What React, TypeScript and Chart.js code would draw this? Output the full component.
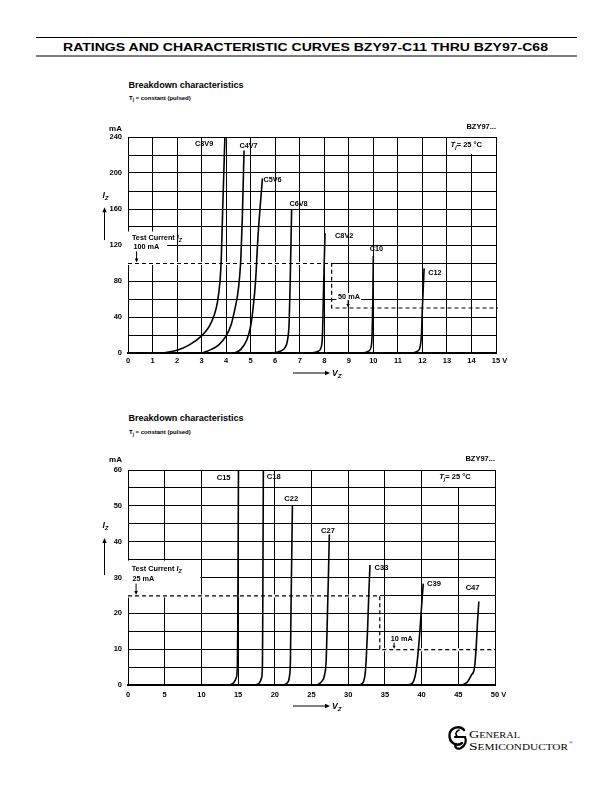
import React, { useEffect, useRef } from 'react';
import { Chart, registerables } from 'chart.js';

Chart.register(...registerables);

const FONT = '"Liberation Sans", Arial, Helvetica, sans-serif';

// ---------- Chart 1 (0..15 V, 0..240 mA) ----------
const topNames = ['C3V9', 'C4V7', 'C5V6', 'C6V8', 'C8V2', 'C10', 'C12'];
const c3v9V = [1.4, 2.0, 2.5, 3.0, 3.3, 3.5, 3.65, 3.75, 3.8, 3.86, 3.95];
const c3v9I = [0, 3, 9, 19, 29, 41, 57, 80, 103, 160, 240];
const c4v7V = [3.0, 3.4, 3.7, 4.0, 4.2, 4.35, 4.47, 4.55, 4.6, 4.66, 4.73];
const c4v7I = [0, 4, 9, 19, 31, 48, 65, 85, 105, 150, 225];
const c5v6V = [4.35, 4.6, 4.85, 5.0, 5.1, 5.2, 5.3, 5.48];
const c5v6I = [0, 4, 15, 30, 50, 80, 130, 194];
const c6v8V = [5.9, 6.2, 6.4, 6.5, 6.57, 6.62, 6.67];
const c6v8I = [0, 2, 6, 14, 35, 90, 160];
const c8v2V = [7.5, 7.75, 7.87, 7.93, 7.97, 8.03];
const c8v2I = [0, 2, 6, 22, 70, 133];
const c10V = [9.6, 9.8, 9.9, 9.95, 9.98, 10.0];
const c10I = [0, 2, 6, 20, 60, 108];
const c12V = [11.6, 11.8, 11.9, 11.96, 12.0, 12.07];
const c12I = [0, 2, 6, 20, 50, 94];
const topXTicks = [0, 1, 2, 3, 4, 5, 6, 7, 8, 9, 10, 11, 12, 13, 14, 15];
const topYTicks = [0, 40, 80, 120, 160, 200, 240];

// ---------- Chart 2 (0..50 V, 0..60 mA) ----------
const bottomNames = ['C15', 'C18', 'C22', 'C27', 'C33', 'C39', 'C47'];
const c15V = [13.8, 14.4, 14.75, 14.9, 14.95, 15.0, 15.05];
const c15I = [0, 0.6, 2, 5, 15, 35, 60];
const c18V = [17.4, 17.9, 18.2, 18.32, 18.36, 18.4, 18.44];
const c18I = [0, 0.6, 2, 6, 20, 40, 60];
const c22V = [21.2, 21.7, 22.0, 22.13, 22.2, 22.3, 22.4];
const c22I = [0, 0.6, 2.5, 7, 20, 35, 50];
const c27V = [25.8, 26.4, 26.8, 27.0, 27.15, 27.3, 27.43];
const c27I = [0, 1, 3, 7, 18, 30, 42];
const c33V = [31.6, 32.1, 32.3, 32.45, 32.65, 32.8, 32.97];
const c33I = [0, 1, 3, 7, 16, 25, 33.5];
const c39V = [38.3, 38.9, 39.25, 39.55, 39.8, 40.0, 40.23];
const c39I = [0, 1, 4, 9.6, 16, 22, 28.3];
const c47V = [45.6, 46.3, 46.8, 47.2, 47.45, 47.6, 47.8];
const c47I = [0, 1, 2.8, 4.7, 11, 17, 23.3];
const bottomXTicks = [0, 5, 10, 15, 20, 25, 30, 35, 40, 45, 50];
const bottomYTicks = [0, 10, 20, 30, 40, 50, 60];

type Part = { t: string; italic?: boolean; sub?: boolean };

function drawRich(ctx: CanvasRenderingContext2D, x: number, y: number, parts: Part[], size: number, align: 'left' | 'right' | 'center' = 'left') {
  const fontOf = (p: Part) => `${p.italic ? 'italic ' : ''}bold ${p.sub ? size * 0.72 : size}px ${FONT}`;
  let total = 0;
  const widths = parts.map((p) => {
    ctx.font = fontOf(p);
    const w = ctx.measureText(p.t).width;
    total += w;
    return w;
  });
  let cx = x;
  if (align === 'right') cx = x - total;
  if (align === 'center') cx = x - total / 2;
  ctx.fillStyle = '#000';
  ctx.textBaseline = 'middle';
  ctx.textAlign = 'left';
  parts.forEach((p, k) => {
    ctx.font = fontOf(p);
    ctx.fillText(p.t, cx, y + (p.sub ? size * 0.3 : 0));
    cx += widths[k];
  });
}

function arrow(ctx: CanvasRenderingContext2D, x1: number, y1: number, x2: number, y2: number, head = 4.5, half = 2) {
  const ang = Math.atan2(y2 - y1, x2 - x1);
  ctx.save();
  ctx.setLineDash([]);
  ctx.strokeStyle = '#000';
  ctx.fillStyle = '#000';
  ctx.lineWidth = 1;
  ctx.beginPath();
  ctx.moveTo(x1, y1);
  ctx.lineTo(x2 - Math.cos(ang) * head * 0.8, y2 - Math.sin(ang) * head * 0.8);
  ctx.stroke();
  ctx.beginPath();
  ctx.moveTo(x2, y2);
  ctx.lineTo(x2 - Math.cos(ang) * head - Math.sin(ang) * half, y2 - Math.sin(ang) * head + Math.cos(ang) * half);
  ctx.lineTo(x2 - Math.cos(ang) * head + Math.sin(ang) * half, y2 - Math.sin(ang) * head - Math.cos(ang) * half);
  ctx.closePath();
  ctx.fill();
  ctx.restore();
}

type Helpers = {
  ctx: CanvasRenderingContext2D;
  px: (v: number) => number;
  py: (v: number) => number;
  area: { left: number; right: number; top: number; bottom: number };
};

type Spec = {
  names: string[];
  volts: number[][];
  currents: number[][];
  xTicks: number[];
  yTicks: number[];
  xStep: number;
  yStep: number;
  padTop: number;
  padRight: number;
  xPad: number;
  before: (h: Helpers) => void;
  after: (h: Helpers) => void;
};

function helpers(chart: any): Helpers {
  const xs = chart.scales.x;
  const ys = chart.scales.y;
  return {
    ctx: chart.ctx,
    px: (v: number) => xs.getPixelForValue(v),
    py: (v: number) => ys.getPixelForValue(v),
    area: chart.chartArea,
  };
}

function makeConfig(spec: Spec): any {
  const xMax = spec.xTicks[spec.xTicks.length - 1];
  const yMax = spec.yTicks[spec.yTicks.length - 1];
  const tickFont = { family: FONT, size: 7.5, weight: 'bold' as const };
  const extras = {
    id: 'extras',
    beforeDatasetsDraw(chart: any) {
      const h = helpers(chart);
      h.ctx.save();
      spec.before(h);
      h.ctx.restore();
    },
    afterDatasetsDraw(chart: any) {
      const h = helpers(chart);
      h.ctx.save();
      spec.after(h);
      // unit "V" after the last x tick label
      const ctx = h.ctx;
      ctx.font = `bold 7.5px ${FONT}`;
      const w = ctx.measureText(String(xMax)).width;
      drawRich(ctx, h.px(xMax) + w / 2 + 2, h.area.bottom + spec.xPad + 4.5, [{ t: 'V' }], 7.5);
      h.ctx.restore();
    },
  };
  return {
    type: 'line',
    data: {
      datasets: spec.names.map((n, k) => ({
        label: n,
        data: spec.volts[k].map((v, j) => ({ x: v, y: spec.currents[k][j] })),
        borderColor: '#000',
        borderWidth: 1.6,
        pointRadius: 0,
        fill: false,
        cubicInterpolationMode: 'monotone',
      })),
    },
    options: {
      responsive: false,
      maintainAspectRatio: false,
      animation: false,
      layout: { padding: { top: spec.padTop, right: spec.padRight, left: 0, bottom: 0 } },
      plugins: { legend: { display: false }, tooltip: { enabled: false } },
      scales: {
        x: {
          type: 'linear',
          min: 0,
          max: xMax,
          afterFit: (s: any) => {
            s.height = 37;
          },
          ticks: {
            stepSize: spec.xStep,
            autoSkip: false,
            maxRotation: 0,
            color: '#000',
            font: tickFont,
            padding: spec.xPad,
            callback: (v: any) => (spec.xTicks.includes(Number(v)) ? String(v) : ''),
          },
          grid: { color: '#000', lineWidth: 1, drawTicks: false },
          border: { display: true, color: '#000', width: 2 },
        },
        y: {
          type: 'linear',
          min: 0,
          max: yMax,
          afterFit: (s: any) => {
            s.width = 38;
          },
          ticks: {
            stepSize: spec.yStep,
            autoSkip: false,
            color: '#000',
            font: tickFont,
            padding: 6,
            callback: (v: any) => (spec.yTicks.includes(Number(v)) ? String(v) : ''),
          },
          grid: { color: '#000', lineWidth: 1, drawTicks: false },
          border: { display: true, color: '#000', width: 1 },
        },
      },
    },
    plugins: [extras],
  };
}

function whiteRect(ctx: CanvasRenderingContext2D, x0: number, y0: number, x1: number, y1: number) {
  ctx.fillStyle = '#fff';
  ctx.fillRect(Math.min(x0, x1), Math.min(y0, y1), Math.abs(x1 - x0), Math.abs(y1 - y0));
}

function whiteLine(ctx: CanvasRenderingContext2D, x0: number, x1: number, y: number) {
  ctx.save();
  ctx.strokeStyle = '#fff';
  ctx.lineWidth = 3;
  ctx.beginPath();
  ctx.moveTo(x0, y);
  ctx.lineTo(x1, y);
  ctx.stroke();
  ctx.restore();
}

function dashedPath(ctx: CanvasRenderingContext2D, pts: [number, number][]) {
  ctx.save();
  ctx.strokeStyle = '#000';
  ctx.lineWidth = 1.2;
  ctx.setLineDash([4, 3]);
  ctx.beginPath();
  pts.forEach(([x, y], k) => (k === 0 ? ctx.moveTo(x, y) : ctx.lineTo(x, y)));
  ctx.stroke();
  ctx.restore();
}

function axisDecor(h: Helpers, mAy: number, bzyY: number, izY: number, izArrow: [number, number], vzY: number) {
  const { ctx, area } = h;
  drawRich(ctx, area.left - 6, area.top - mAy, [{ t: 'mA' }], 8, 'right');
  drawRich(ctx, area.right, area.top - bzyY, [{ t: 'BZY97...' }], 7.5, 'right');
  drawRich(ctx, 102.5 - 90, izY, [{ t: 'I', italic: true }, { t: 'Z', italic: true, sub: true }], 8.5);
  arrow(ctx, 104.5 - 90, izArrow[0], 104.5 - 90, izArrow[1], 5, 2.2);
  arrow(ctx, area.left + 165, area.bottom + vzY, area.left + 202, area.bottom + vzY, 5, 2.2);
  drawRich(ctx, area.left + 204, area.bottom + vzY + 0.5, [{ t: 'V', italic: true }, { t: 'Z', italic: true, sub: true }], 8.5);
}

const labelSize = 7.3;

const topLabelPos: [number, number][] = [
  [2.73, 232], [4.54, 230], [5.52, 192], [6.58, 166], [8.44, 130], [9.85, 115.5], [12.24, 89],
];
const bottomLabelPos: [number, number][] = [
  [12.08, 57.7], [18.9, 58], [21.3, 51.8], [26.3, 43], [33.6, 32.7], [40.74, 28.2], [46.0, 27],
];

const topSpec: Spec = {
  names: topNames,
  volts: [c3v9V, c4v7V, c5v6V, c6v8V, c8v2V, c10V, c12V],
  currents: [c3v9I, c4v7I, c5v6I, c6v8I, c8v2I, c10I, c12I],
  xTicks: topXTicks,
  yTicks: topYTicks,
  xStep: 1,
  yStep: 20,
  padTop: 22,
  padRight: 34,
  xPad: 3.5,
  before: ({ ctx, px, py }) => {
    whiteRect(ctx, px(0) - 1.6, py(135), px(1.6), py(100));
    whiteRect(ctx, px(13) + 1, py(240) + 1, px(15) - 1, py(220) - 1);
    whiteLine(ctx, px(0) - 1, px(8.3), py(100) + 0.5);
    dashedPath(ctx, [[px(0), py(100) + 0.5], [px(8.3), py(100) + 0.5], [px(8.3), py(50)], [px(15) + 2, py(50)]]);
    whiteRect(ctx, px(8.5), py(66.5), px(9.5), py(58.5));
  },
  after: (h) => {
    const { ctx, px, py } = h;
    topNames.forEach((n, k) => drawRich(ctx, px(topLabelPos[k][0]), py(topLabelPos[k][1]), [{ t: n }], labelSize));
    drawRich(ctx, px(13.15), py(231), [{ t: 'T', italic: true }, { t: 'j', italic: true, sub: true }, { t: '= 25 °C' }], 7.5);
    drawRich(ctx, px(0.16), py(127.5), [{ t: 'Test Current ' }, { t: 'I', italic: true }, { t: 'Z', italic: true, sub: true }], labelSize);
    drawRich(ctx, px(0.22), py(117.8), [{ t: '100 mA' }], labelSize);
    arrow(ctx, px(0.35), py(113), px(0.35), py(100) - 0.5, 4, 1.8);
    drawRich(ctx, px(8.56), py(62.5), [{ t: '50 mA' }], labelSize);
    arrow(ctx, px(8.97), py(59), px(8.97), py(50) - 0.5, 3.5, 1.6);
    axisDecor(h, 8, 10, py(175), [py(125.5), py(162)], 20);
  },
};

const bottomSpec: Spec = {
  names: bottomNames,
  volts: [c15V, c18V, c22V, c27V, c33V, c39V, c47V],
  currents: [c15I, c18I, c22I, c27I, c33I, c39I, c47I],
  xTicks: bottomXTicks,
  yTicks: bottomYTicks,
  xStep: 5,
  yStep: 5,
  padTop: 23,
  padRight: 35,
  xPad: 5.5,
  before: ({ ctx, px, py }) => {
    whiteRect(ctx, px(0) - 1.6, py(35) + 1, px(10) - 1, py(25));
    whiteRect(ctx, px(40) + 1, py(60) + 1, px(50) - 1, py(55) - 1);
    whiteLine(ctx, px(0) - 1, px(34.3), py(25) + 0.5);
    whiteLine(ctx, px(34.3), px(50) - 1, py(10) + 0.5);
    dashedPath(ctx, [[px(0), py(25) + 0.5], [px(34.3), py(25) + 0.5], [px(34.3), py(10) + 0.5], [px(50) + 1, py(10) + 0.5]]);
  },
  after: (h) => {
    const { ctx, px, py } = h;
    bottomNames.forEach((n, k) => drawRich(ctx, px(bottomLabelPos[k][0]), py(bottomLabelPos[k][1]), [{ t: n }], 7.6));
    drawRich(ctx, px(42.4), py(58), [{ t: 'T', italic: true }, { t: 'j', italic: true, sub: true }, { t: '= 25 °C' }], 7.5);
    drawRich(ctx, px(0.5), py(32.3), [{ t: 'Test Current ' }, { t: 'I', italic: true }, { t: 'Z', italic: true, sub: true }], labelSize);
    drawRich(ctx, px(0.6), py(29.5), [{ t: '25 mA' }], labelSize);
    arrow(ctx, px(1.1), py(28.3), px(1.1), py(25) - 0.5, 4, 1.8);
    drawRich(ctx, px(35.8), py(12.75), [{ t: '10 mA' }], labelSize);
    arrow(ctx, px(36.25), py(11.8), px(36.25), py(10) - 0.5, 3, 1.5);
    axisDecor(h, 10.5, 11, py(44.4), [py(30.7), py(41)], 21);
  },
};

export default function App() {
  const ref1 = useRef<HTMLCanvasElement>(null);
  const ref2 = useRef<HTMLCanvasElement>(null);

  useEffect(() => {
    const c1 = new Chart(ref1.current as HTMLCanvasElement, makeConfig(topSpec));
    const c2 = new Chart(ref2.current as HTMLCanvasElement, makeConfig(bottomSpec));
    return () => {
      c1.destroy();
      c2.destroy();
    };
  }, []);

  const serif = '"Liberation Serif", "Times New Roman", serif';

  return (
    <div style={{ position: 'absolute', left: 0, top: 0, width: 612, height: 792, background: '#fff', fontFamily: FONT }}>
      <svg width={612} height={792} style={{ position: 'absolute', left: 0, top: 0 }}>
        <line x1={36} y1={37.5} x2={577} y2={37.5} stroke="#000" strokeWidth={1} />
        <line x1={36} y1={56} x2={577} y2={56} stroke="#000" strokeWidth={1.2} />
        <text x={63} y={51.4} fontFamily={FONT} fontWeight="bold" fontSize={11.7} textLength={485} lengthAdjust="spacingAndGlyphs">
          RATINGS AND CHARACTERISTIC CURVES BZY97-C11 THRU BZY97-C68
        </text>

        <text x={128.5} y={88.3} fontFamily={FONT} fontWeight="bold" fontSize={9} textLength={115} lengthAdjust="spacingAndGlyphs">
          Breakdown characteristics
        </text>
        <text x={129} y={99.7} fontFamily={FONT} fontWeight="bold" fontSize={6}>
          T<tspan fontSize={4.5} dy={1.5}>j</tspan>
          <tspan dy={-1.5}>{' =  constant (pulsed)'}</tspan>
        </text>

        <text x={128.5} y={420.5} fontFamily={FONT} fontWeight="bold" fontSize={9} textLength={115} lengthAdjust="spacingAndGlyphs">
          Breakdown characteristics
        </text>
        <text x={129} y={434} fontFamily={FONT} fontWeight="bold" fontSize={6}>
          T<tspan fontSize={4.5} dy={1.5}>j</tspan>
          <tspan dy={-1.5}>{' =  constant (pulsed)'}</tspan>
        </text>

        <g transform="translate(447,726)" fill="none" stroke="#000" strokeLinecap="round">
          <path d="M17 4 C13 -1, 3 1, 2.5 9 C2 17, 10 21, 15 17" strokeWidth={2.4} />
          <path d="M8 11 L18 11 C20 15, 18 20, 14 22 C10 24, 7 21, 9 18" strokeWidth={2.2} />
          <path d="M12 4 C8 6, 8 9, 11 11" strokeWidth={1.6} />
        </g>
        <text x={469} y={737.5} fontFamily={serif} fontSize={11} style={{ fontVariant: 'small-caps' }} textLength={51} lengthAdjust="spacingAndGlyphs">
          General
        </text>
        <text x={469} y={749.5} fontFamily={serif} fontSize={11} style={{ fontVariant: 'small-caps' }} textLength={99} lengthAdjust="spacingAndGlyphs">
          Semiconductor
        </text>
        <text x={569} y={744} fontFamily={serif} fontSize={5}>
          ®
        </text>
      </svg>
      <canvas ref={ref1} width={440} height={275} style={{ position: 'absolute', left: 90, top: 115, width: 440, height: 275 }} />
      <canvas ref={ref2} width={440} height={275} style={{ position: 'absolute', left: 90, top: 447, width: 440, height: 275 }} />
    </div>
  );
}
